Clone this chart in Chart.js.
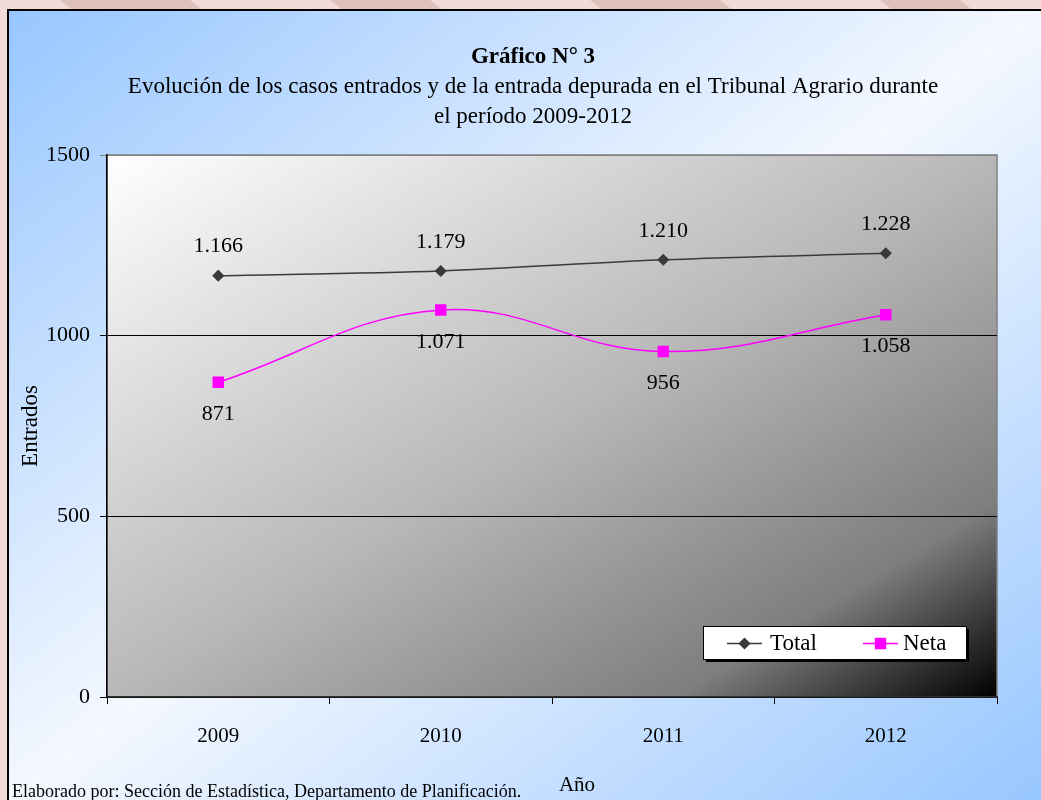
<!DOCTYPE html>
<html>
<head>
<meta charset="utf-8">
<script src="https://cdn.jsdelivr.net/npm/chart.js@4/dist/chart.umd.min.js"></script>
<style>
  html, body { margin: 0; padding: 0; background: #f0d8d2; }
  canvas { display: block; }
</style>
</head>
<body>
<canvas id="chart" width="1041" height="800"></canvas>
<script>
// Datos del gráfico
const years = ['2009', '2010', '2011', '2012'];
const totalValues = [1166, 1179, 1210, 1228];
const netaValues = [871, 1071, 956, 1058];
const yTicks = [0, 500, 1000, 1500];

const FONT = "'Liberation Serif', 'Times New Roman', serif";

// Formato con punto de miles (1.166)
function formatNumber(v) {
  return String(v).replace(/\B(?=(\d{3})+(?!\d))/g, '.');
}

// Gradiente diagonal con isolíneas paralelas a la otra diagonal
function diagonalGradient(ctx, left, top, right, bottom) {
  const w = right - left;
  const h = bottom - top;
  const k = (2 * w * h) / (w * w + h * h);
  return ctx.createLinearGradient(left, top, left + h * k, top + w * k);
}

// Fondo: franjas rosadas, panel azul y área de trazado gris
const backgroundPlugin = {
  id: 'backgroundPlugin',
  beforeDraw(chart) {
    const { ctx, chartArea: { top, bottom, left, right } } = chart;
    ctx.save();

    // franja superior decorativa
    ctx.fillStyle = '#f2dcd7';
    ctx.fillRect(0, 0, chart.width, chart.height);
    ctx.fillStyle = '#dfc2bd';
    const stripes = [[60, 190], [330, 430], [590, 720], [880, 960]];
    stripes.forEach(([a, b]) => {
      ctx.beginPath();
      ctx.moveTo(a, 0);
      ctx.lineTo(b, 0);
      ctx.lineTo(b + 15, 12);
      ctx.lineTo(a + 15, 12);
      ctx.closePath();
      ctx.fill();
    });

    // panel azul
    const px = 8, py = 10, pr = chart.width + 2, pb = chart.height + 2;
    const g = diagonalGradient(ctx, px, py, pr, pb);
    g.addColorStop(0, '#97c6ff');
    g.addColorStop(0.5, '#f4f8ff');
    g.addColorStop(1, '#97c6ff');
    ctx.fillStyle = g;
    ctx.fillRect(px, py, pr - px, pb - py);
    ctx.lineWidth = 2;
    ctx.strokeStyle = '#000000';
    ctx.strokeRect(px, py, pr - px, pb - py);

    // área de trazado
    const pg = diagonalGradient(ctx, left, top, right, bottom);
    pg.addColorStop(0, '#ffffff');
    pg.addColorStop(0.5, '#b8b8b8');
    pg.addColorStop(0.82, '#7e7e7e');
    pg.addColorStop(1, '#000000');
    ctx.fillStyle = pg;
    ctx.fillRect(left, top, right - left, bottom - top);
    ctx.lineWidth = 1.5;
    ctx.strokeStyle = '#808080';
    ctx.strokeRect(left, top, right - left, bottom - top);

    // títulos
    ctx.fillStyle = '#000000';
    ctx.textAlign = 'center';
    ctx.textBaseline = 'middle';
    ctx.font = `bold 23px ${FONT}`;
    ctx.fillText('Gráfico N° 3', 533, 57);
    ctx.font = `23px ${FONT}`;
    ctx.fillText('Evolución de los casos entrados y de la entrada depurada en el Tribunal Agrario durante', 533, 87);
    ctx.fillText('el período 2009-2012', 533, 117);

    // título del eje X
    ctx.font = `21px ${FONT}`;
    ctx.fillText('Año', 577, 785);

    // fuente
    ctx.textAlign = 'left';
    ctx.textBaseline = 'alphabetic';
    ctx.font = `18px ${FONT}`;
    ctx.fillText('Elaborado por: Sección de Estadística, Departamento de Planificación.', 12, 797);
    ctx.restore();
  },
};

// Etiquetas de datos y leyenda
const labelsPlugin = {
  id: 'labelsPlugin',
  afterDatasetsDraw(chart) {
    const { ctx } = chart;
    ctx.save();
    ctx.fillStyle = '#000000';
    ctx.font = `22px ${FONT}`;
    ctx.textAlign = 'center';
    ctx.textBaseline = 'middle';

    chart.data.datasets.forEach((ds, i) => {
      const meta = chart.getDatasetMeta(i);
      meta.data.forEach((pt, j) => {
        const offset = ds.labelPosition === 'below' ? 32 : -29;
        ctx.fillText(formatNumber(ds.data[j]), pt.x, pt.y + offset);
      });
    });

    // leyenda dentro del área de trazado
    const lx = 703, ly = 626, lw = 263, lh = 33;
    ctx.fillStyle = '#000000';
    ctx.fillRect(lx + 3, ly + 3, lw, lh);
    ctx.fillStyle = '#ffffff';
    ctx.fillRect(lx, ly, lw, lh);
    ctx.lineWidth = 1;
    ctx.strokeStyle = '#000000';
    ctx.strokeRect(lx + 0.5, ly + 0.5, lw, lh);

    const items = [
      { x: 727, textX: 770 },
      { x: 863, textX: 903 },
    ];
    const cy = ly + lh / 2 + 1;
    chart.data.datasets.forEach((ds, i) => {
      const it = items[i];
      ctx.strokeStyle = ds.borderColor;
      ctx.lineWidth = ds.borderWidth;
      ctx.beginPath();
      ctx.moveTo(it.x, cy);
      ctx.lineTo(it.x + 35, cy);
      ctx.stroke();
      ctx.fillStyle = ds.pointBackgroundColor;
      ctx.strokeStyle = ds.pointBorderColor;
      Chart.helpers.drawPoint(ctx, {
        pointStyle: ds.pointStyle,
        radius: ds.pointRadius,
        rotation: 0,
        borderWidth: 1,
      }, it.x + 17.5, cy);
      ctx.fillStyle = '#000000';
      ctx.textAlign = 'left';
      ctx.font = `23px ${FONT}`;
      ctx.fillText(ds.label, it.textX, cy);
    });
    ctx.restore();
  },
};

new Chart(document.getElementById('chart'), {
  type: 'line',
  data: {
    labels: years,
    datasets: [
      {
        label: 'Total',
        data: totalValues,
        borderColor: '#3a3a3a',
        borderWidth: 1.5,
        pointStyle: 'rectRot',
        pointRadius: 5,
        pointBackgroundColor: '#3a3a3a',
        pointBorderColor: '#3a3a3a',
        tension: 0.3,
        labelPosition: 'above',
      },
      {
        label: 'Neta',
        data: netaValues,
        borderColor: '#ff00ff',
        borderWidth: 1.5,
        pointStyle: 'rect',
        pointRadius: 7,
        pointBackgroundColor: '#ff00ff',
        pointBorderColor: '#ff00ff',
        tension: 0.4,
        labelPosition: 'below',
      },
    ],
  },
  options: {
    responsive: false,
    animation: false,
    devicePixelRatio: 1,
    layout: {
      padding: { top: 155, left: 0, right: 44, bottom: 0 },
    },
    plugins: {
      legend: { display: false },
      title: { display: false },
      tooltip: { enabled: false },
    },
    scales: {
      x: {
        offset: true,
        afterFit(scale) {
          scale.height = 103;
        },
        grid: {
          offset: true,
          drawOnChartArea: false,
          drawTicks: true,
          tickLength: 7,
          color: '#000000',
        },
        border: { display: true, color: '#303030', width: 1.5 },
        ticks: {
          color: '#000000',
          padding: 20,
          font: { family: FONT, size: 21 },
        },
      },
      y: {
        min: yTicks[0],
        max: yTicks[yTicks.length - 1],
        afterFit(scale) {
          scale.width = 107;
        },
        afterBuildTicks(scale) {
          scale.ticks = yTicks.map((v) => ({ value: v }));
        },
        grid: {
          tickLength: 7,
          color: (c) => (c.tick && c.tick.value === 1500 ? '#808080' : '#000000'),
        },
        border: { display: true, color: '#000000', width: 1.5 },
        ticks: {
          color: '#000000',
          padding: 10,
          font: { family: FONT, size: 22 },
          callback: (value) => String(value),
        },
        title: {
          display: true,
          text: 'Entrados',
          color: '#000000',
          font: { family: FONT, size: 23 },
          padding: { top: 17, bottom: 0 },
        },
      },
    },
  },
  plugins: [backgroundPlugin, labelsPlugin],
});
</script>
</body>
</html>
